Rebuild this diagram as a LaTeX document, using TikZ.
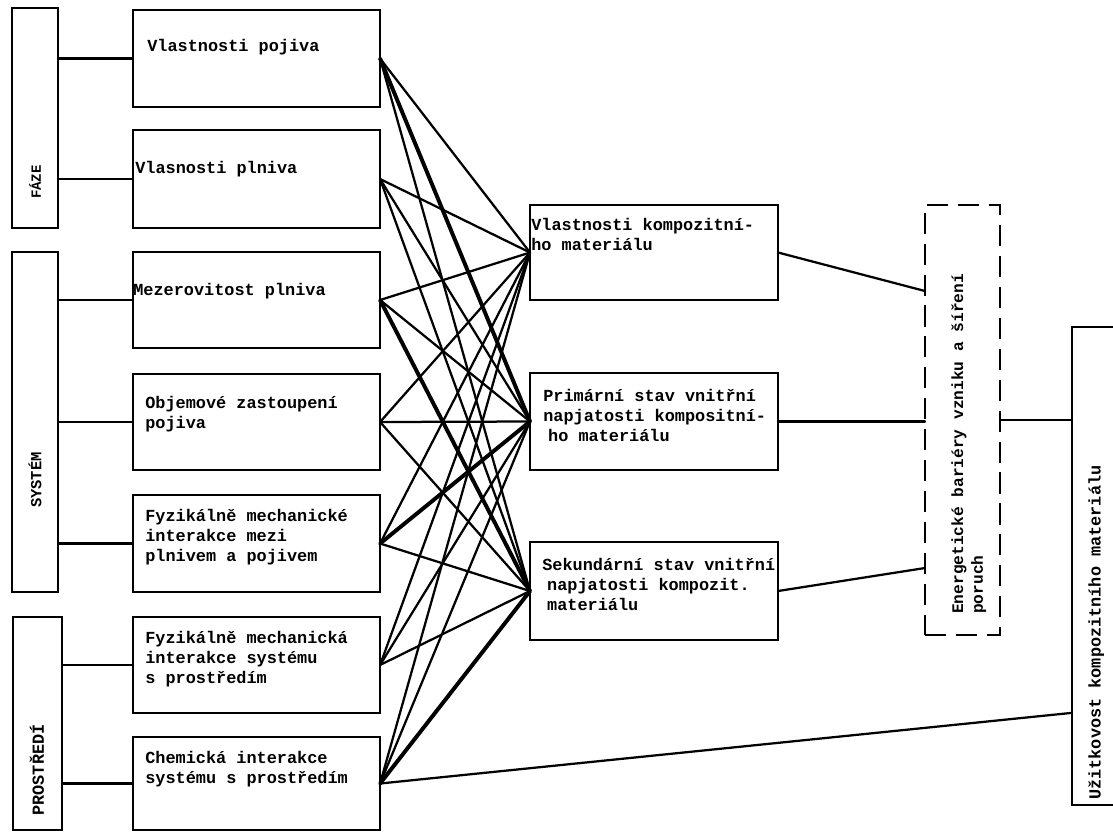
\documentclass[tikz,border=0pt]{standalone}
\usepackage{fontspec}
\usepackage{tikz}
\usetikzlibrary{calc}
\newfontfamily\TypeFont{Liberation Mono}
\tikzstyle{BoxItem}=[draw,rectangle,anchor=north west,inner sep=0pt,outer sep=0pt,line width=1.7pt,
minimum width=6.175cm,minimum height=2.4cm]
\tikzstyle{BoxSide}=[BoxItem,minimum width=1.15cm]
\tikzstyle{BoxMid}=[BoxItem,minimum width=6.2cm]
\tikzstyle{BoxDash}=[BoxItem,dash pattern=on 15pt off 7pt,minimum width=1.875cm,minimum height=10.75cm]
\tikzstyle{TextItem}=[anchor=north west,inner sep=0pt,align=left,
font=\TypeFont\bfseries\fontsize{12}{14.2}\selectfont]
\tikzstyle{TextSide}=[rotate=90,inner sep=0pt,font=\TypeFont\bfseries\fontsize{10}{12}\selectfont]
\tikzstyle{EdgeLink}=[line width=1.6pt,line cap=round]
\tikzstyle{EdgeHeavy}=[EdgeLink,line width=2.8pt]

\begin{document}
\begin{tikzpicture}[x=0.025cm,y=-0.025cm]
        \useasboundingbox(0,0)rectangle(1113,834);
        % left groups
        \node[BoxSide,minimum height=5.5cm](faze)at(12,8){};
        \node[BoxSide,minimum height=8.5cm](sys)at(12,252){};
        \node[BoxSide,minimum width=1.225cm,minimum height=5.325cm](env)at(13,617){};
        \node[TextSide](lf)at(35,182){FÁZE};
        \node[TextSide,font=\TypeFont\bfseries\fontsize{11}{13}\selectfont](ls)at(35,480){SYSTÉM};
        \node[TextSide,font=\TypeFont\bfseries\fontsize{12}{14}\selectfont](lp)at(37,770){PROSTŘEDÍ};
        % factors
        \node[BoxItem,minimum height=2.425cm](b1)at(133,10){};
        \node[BoxItem,minimum height=2.45cm](b2)at(133,130){};
        \node[BoxItem](b3)at(133,252){};
        \node[BoxItem](b4)at(133,374){};
        \node[BoxItem,minimum height=2.425cm](b5)at(133,495){};
        \node[BoxItem](b6)at(133,617){};
        \node[BoxItem,minimum height=2.325cm](b7)at(133,737){};
        \node[TextItem](t1)at(147,39){Vlastnosti pojiva};
        \node[TextItem](t2)at(135,161){Vlasnosti plniva};
        \node[TextItem](t3)at(133,283){Mezerovitost plniva};
        \node[TextItem](t4)at(145,396){Objemové zastoupení\\pojiva};
        \node[TextItem](t5)at(145,509){Fyzikálně mechanické\\interakce mezi\\plnivem a pojivem};
        \node[TextItem](t6)at(145,631){Fyzikálně mechanická\\interakce systému\\s prostředím};
        \node[TextItem](t7)at(145,751){Chemická interakce\\systému s prostředím};
        % material states
        \node[BoxMid,minimum height=2.375cm](ma)at(530,205){};
        \node[BoxMid,minimum height=2.425cm](mb)at(530,373){};
        \node[BoxMid,minimum height=2.45cm](mc)at(530,542){};
        \node[TextItem](ta)at(531,218){Vlastnosti kompozitní-\\ho materiálu};
        \node[TextItem](tb)at(543,389){Primární stav vnitřní\\napjatosti kompositní-\\\hspace{3.5pt}ho materiálu};
        \node[TextItem](tc)at(542,558){Sekundární stav vnitřní\\\hspace{3.5pt}napjatosti kompozit.\\\hspace{3.5pt}materiálu};
        % barrier and result
        \node[BoxDash](bar)at(925,205){};
        \node[TextItem,rotate=90,font=\TypeFont\bfseries\fontsize{11.5}{14.2}\selectfont](tbar)at(951,614){Energetické bariéry vzniku a šíření\\poruch};
        \node[BoxItem,minimum width=1.1cm,minimum height=11.95cm](use)at(1072,327){};
        \node[TextItem,rotate=90](tuse)at(1088,800){Užitkovost kompozitního materiálu};
        % group links
        \draw[EdgeLink](b1.west)--(b1.west-|faze.east);
        \draw[EdgeLink](b2.west)--(b2.west-|faze.east);
        \draw[EdgeLink](b3.west)--(b3.west-|sys.east);
        \draw[EdgeLink](b4.west)--(b4.west-|sys.east);
        \draw[EdgeLink](b5.west)--(b5.west-|sys.east);
        \draw[EdgeLink](b6.west)--(b6.west-|env.east);
        \draw[EdgeLink](b7.west)--(b7.west-|env.east);
        % factor to state links
        \draw[EdgeLink](b1.east)--(ma.west);
        \draw[EdgeHeavy](b1.east)--(mb.west);
        \draw[EdgeLink](b1.east)--(mc.west);
        \draw[EdgeLink](b2.east)--(ma.west);
        \draw[EdgeLink](b2.east)--(mb.west);
        \draw[EdgeLink](b2.east)--(mc.west);
        \draw[EdgeLink](b3.east)--(ma.west);
        \draw[EdgeLink](b3.east)--(mb.west);
        \draw[EdgeHeavy](b3.east)--(mc.west);
        \draw[EdgeLink](b4.east)--(ma.west);
        \draw[EdgeLink](b4.east)--(mb.west);
        \draw[EdgeLink](b4.east)--(mc.west);
        \draw[EdgeLink](b5.east)--(ma.west);
        \draw[EdgeHeavy](b5.east)--(mb.west);
        \draw[EdgeLink](b5.east)--(mc.west);
        \draw[EdgeLink](b6.east)--(ma.west);
        \draw[EdgeLink](b6.east)--(mb.west);
        \draw[EdgeLink](b6.east)--(mc.west);
        \draw[EdgeLink](b7.east)--(ma.west);
        \draw[EdgeLink](b7.east)--(mb.west);
        \draw[EdgeHeavy](b7.east)--(mc.west);
        % state to barrier to result
        \draw[EdgeLink](ma.east)--($(bar.north west)!0.2!(bar.south west)$);
        \draw[EdgeLink](mb.east)--(mb.east-|bar.west);
        \draw[EdgeLink](mc.east)--($(bar.north west)!0.844!(bar.south west)$);
        \draw[EdgeLink](bar.east)--(bar.east-|use.west);
        \draw[EdgeLink](b7.east)--($(use.north west)!0.807!(use.south west)$);
    \end{tikzpicture}
\end{document}
